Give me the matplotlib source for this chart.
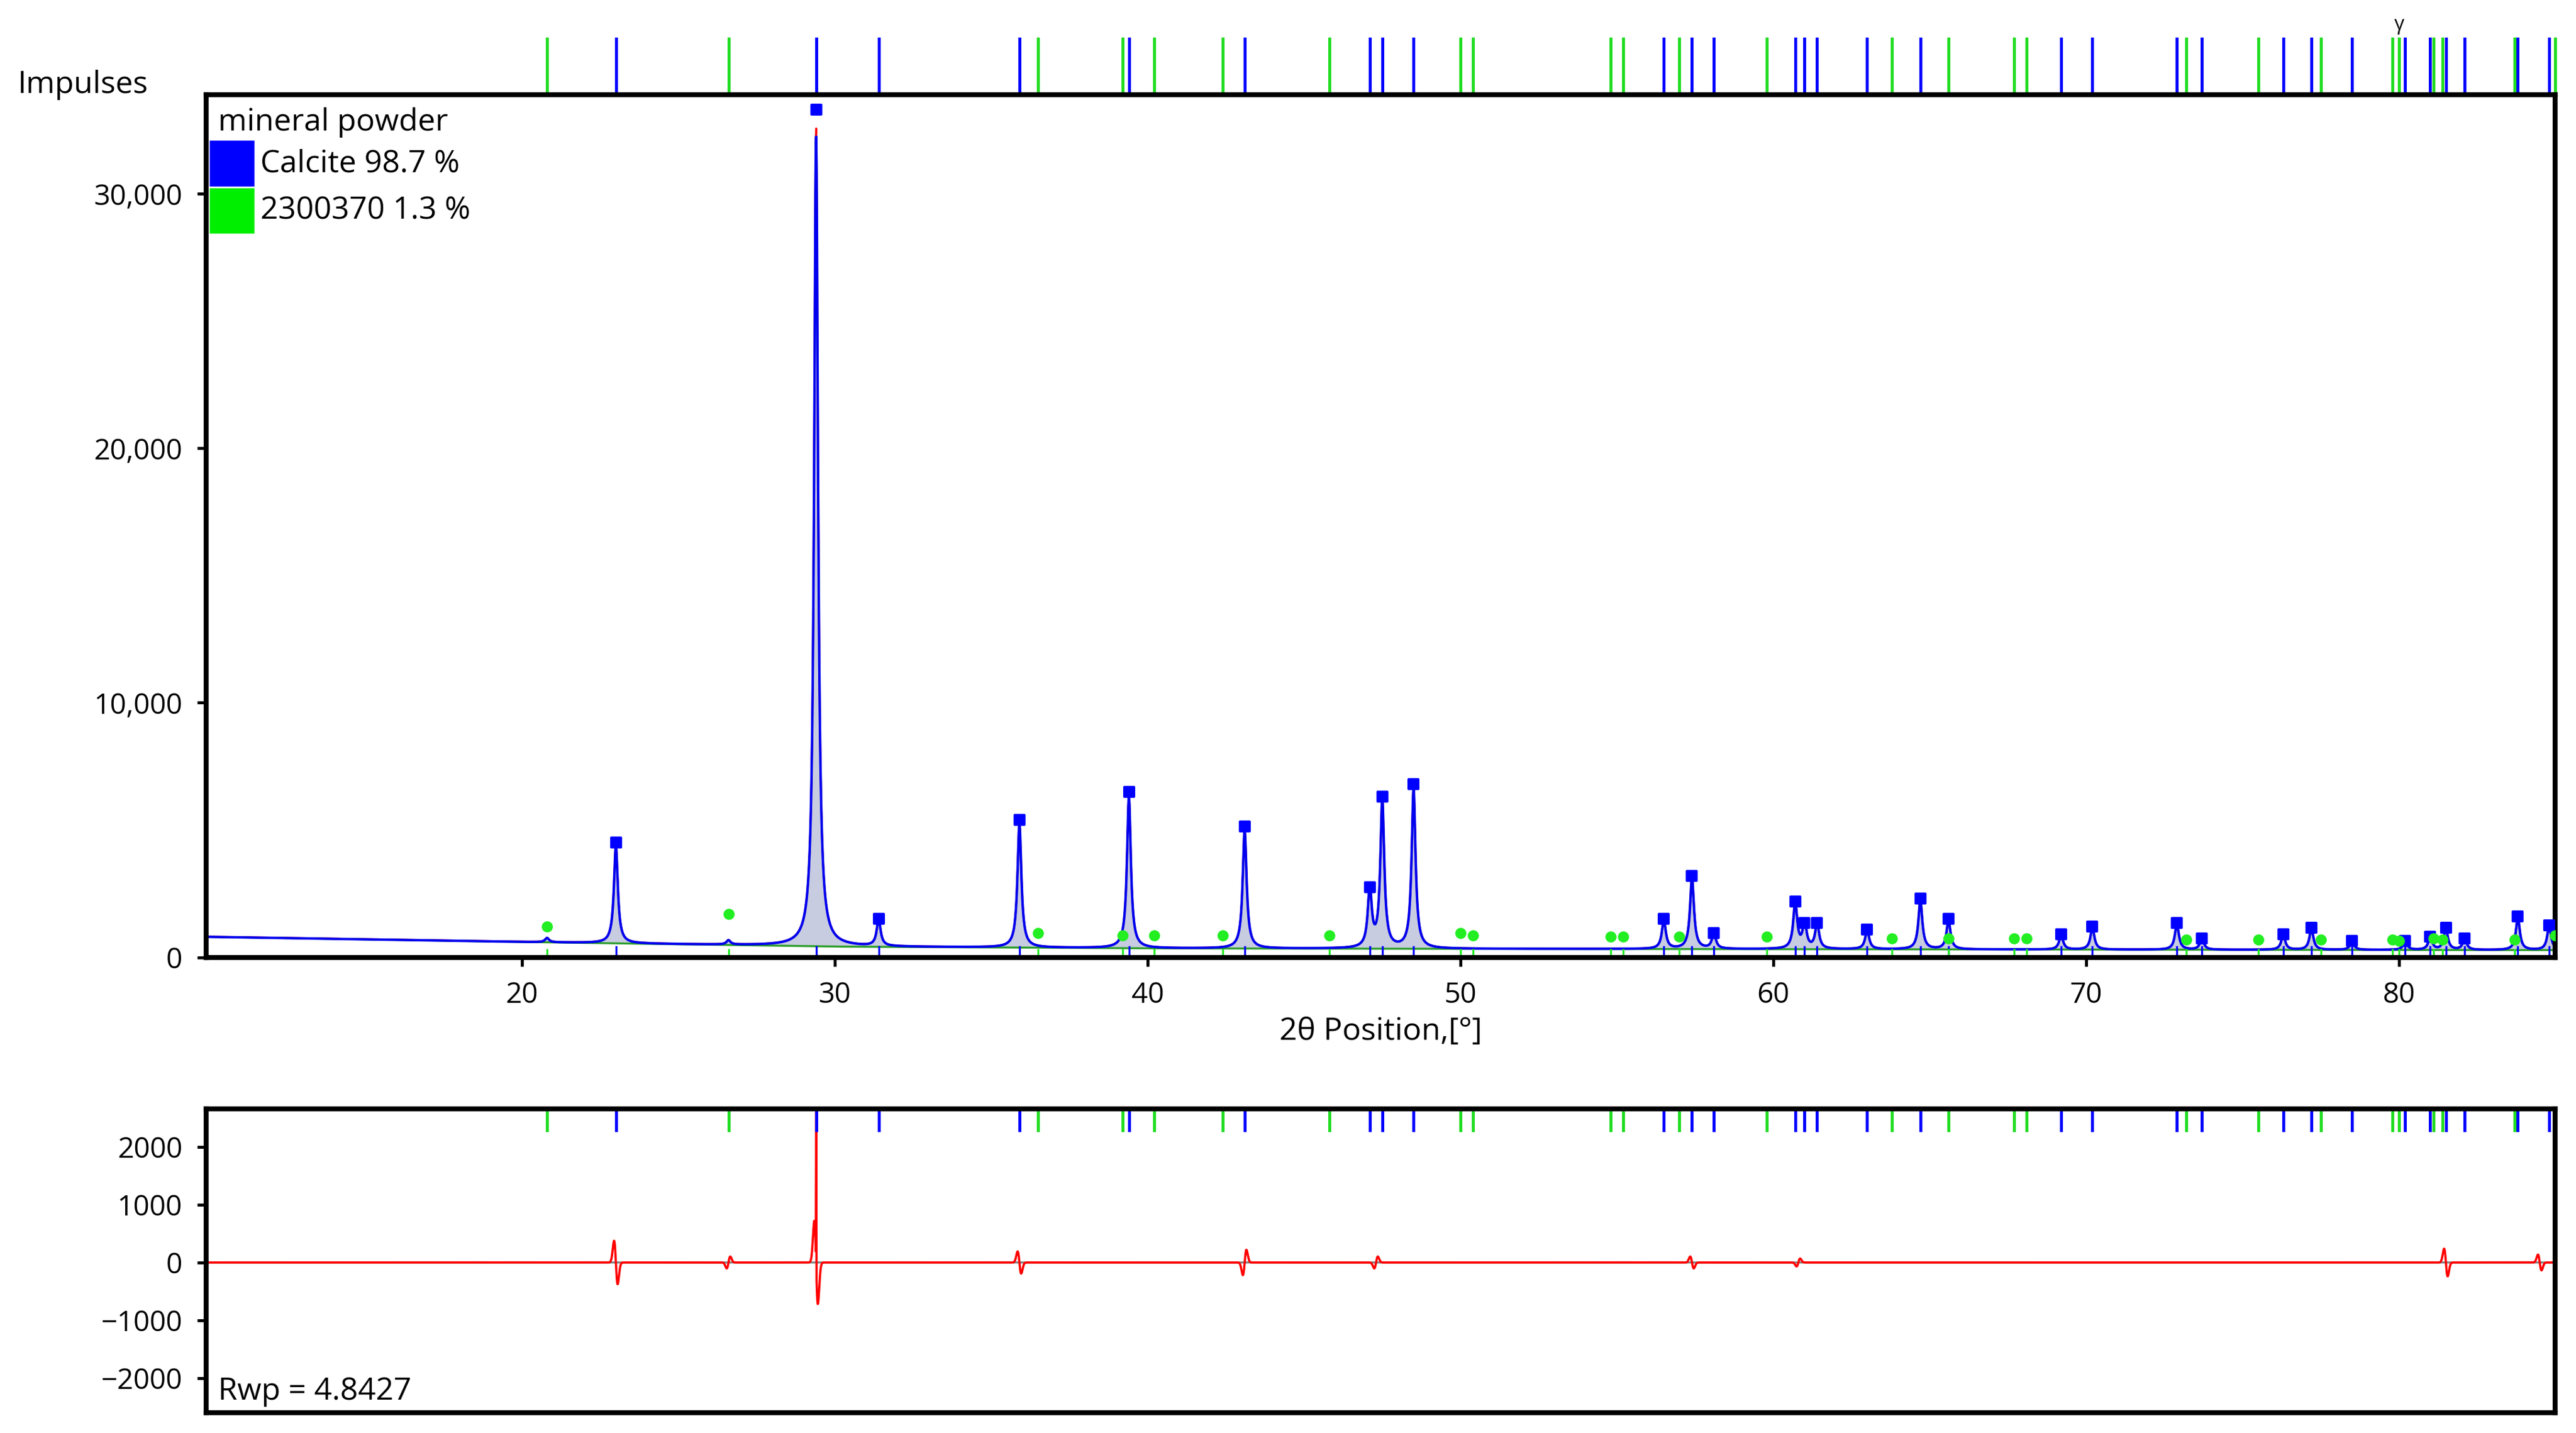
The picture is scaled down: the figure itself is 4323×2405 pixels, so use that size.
import numpy as np
import matplotlib
matplotlib.use("Agg")
import matplotlib.pyplot as plt
from matplotlib.ticker import FuncFormatter, FixedLocator

plt.rcParams['font.family'] = ['Open Sans', 'DejaVu Sans']

calc_pos = [23.0, 29.4, 31.4, 35.9, 39.4, 43.1, 47.1, 47.5, 48.5, 56.5, 57.4, 58.1, 60.7, 61.0, 61.4,
            63.0, 64.7, 65.6, 69.2, 70.2, 72.9, 73.7, 76.3, 77.2, 78.5, 80.2, 81.0, 81.5, 82.1, 83.8, 84.8]
calc_h = [4500, 33300, 1500, 5400, 6500, 5150, 2750, 6300, 6800, 1500, 3200, 950, 2200, 1350, 1350,
          1100, 2300, 1500, 900, 1200, 1350, 750, 900, 1150, 650, 650, 800, 1150, 750, 1600, 1250]
grn_pos = [20.8, 26.6, 36.5, 39.2, 40.2, 42.4, 45.8, 50.0, 50.4, 54.8, 55.2, 57.0, 59.8, 63.8, 65.6,
           67.7, 68.1, 73.2, 75.5, 77.5, 79.8, 80.0, 81.1, 81.4, 83.7, 85.0]
grn_h = [1200, 1700, 950, 850, 850, 850, 850, 950, 850, 800, 800, 800, 800, 750, 750,
         750, 750, 700, 700, 700, 700, 650, 750, 700, 700, 850]
bg_x = [10, 20, 30, 40, 50, 60, 70, 85]
bg_y = [800, 600, 420, 350, 330, 320, 300, 280]
resid_pos = [23.0, 26.6, 29.4, 35.9, 43.1, 47.3, 57.4, 60.8, 81.5, 84.5]
resid_amp = [-550, 150, -1050, -280, 320, 150, -150, 100, -350, -200]

x = np.linspace(10, 85, 6000)
bg = np.interp(x, bg_x, bg_y)
calc = bg.copy()
w = 0.075
for p, h in zip(calc_pos, calc_h):
    calc += (h * 0.97 - np.interp(p, bg_x, bg_y)) / (1 + ((x - p) / w) ** 2)
for p, h in zip(grn_pos[:2], [1000, 900]):
    calc += (h - np.interp(p, bg_x, bg_y)) * 0.4 / (1 + ((x - p) / w) ** 2)
resid = np.zeros_like(x)
for p, a in zip(resid_pos, resid_amp):
    d = (x - p) / 0.08
    resid += a * 1.6 * d * np.exp(-d ** 2)
resid[np.argmin(abs(x - 29.4))] = 2600

fig = plt.figure(figsize=(4323 / 300, 2405 / 300), dpi=300)
ax = fig.add_axes([0.080, 0.332, 0.912, 0.602])
ax2 = fig.add_axes([0.080, 0.014, 0.912, 0.212])

ax.fill_between(x, bg, calc, color='#c8cce0', lw=0)
ax.plot(x, calc * 1.01, color='red', lw=0.8)
ax.plot(x, bg, color='#2a9d2a', lw=0.8)
ax.plot(x, calc, color='#0000ee', lw=1.0)
ax.scatter(calc_pos, calc_h, marker='s', s=14, color='#0000ff', zorder=5)
ax.scatter(grn_pos, grn_h, marker='o', s=12, color='#22ee22', zorder=5)
for p in calc_pos:
    ax.plot([p, p], [0, 400], color='#0000ff', lw=0.8)
for p in grn_pos:
    ax.plot([p, p], [0, 300], color='#22ee22', lw=0.8)
ax.set_xlim(9.9, 85.0)
ax.set_ylim(0, 33900)
ax.xaxis.set_major_locator(FixedLocator([20, 30, 40, 50, 60, 70, 80]))
ax.yaxis.set_major_locator(FixedLocator([0, 10000, 20000, 30000]))
ax.yaxis.set_major_formatter(FuncFormatter(lambda v, _: f"{int(v):,}"))
ax.tick_params(labelsize=11.5, width=1.2, pad=6)
ax.set_xlabel("2θ Position,[°]", fontsize=12.5, labelpad=3)
for s in ax.spines.values():
    s.set_linewidth(2)
for p in calc_pos:
    ax.plot([p, p], [1.0, 1.065], color='#0000ff', lw=1.2, transform=ax.get_xaxis_transform(), clip_on=False)
for p in grn_pos:
    ax.plot([p, p], [1.0, 1.065], color='#22dd22', lw=1.2, transform=ax.get_xaxis_transform(), clip_on=False)
ax.text(80, 1.075, "γ", fontsize=8, ha='center', transform=ax.get_xaxis_transform())
fig.text(0.007, 0.935, "Impulses", fontsize=12.5)
ax.text(0.005, 0.985, "mineral powder", transform=ax.transAxes, fontsize=12.5, va='top')
ax.add_patch(plt.Rectangle((0.002, 0.895), 0.018, 0.05, color='#0000ff', transform=ax.transAxes, clip_on=False))
ax.add_patch(plt.Rectangle((0.002, 0.84), 0.018, 0.05, color='#00ee00', transform=ax.transAxes, clip_on=False))
ax.text(0.023, 0.92, "Calcite 98.7 %", transform=ax.transAxes, fontsize=12.5, va='center')
ax.text(0.023, 0.865, "2300370 1.3 %", transform=ax.transAxes, fontsize=12.5, va='center')

ax2.plot(x, np.zeros_like(x), color='gray', lw=0.8)
ax2.plot(x, resid, color='red', lw=0.9)
for p in calc_pos:
    ax2.plot([p, p], [0.93, 1.0], color='#0000ff', lw=1.2, transform=ax2.get_xaxis_transform())
for p in grn_pos:
    ax2.plot([p, p], [0.93, 1.0], color='#22dd22', lw=1.2, transform=ax2.get_xaxis_transform())
ax2.set_xlim(9.9, 85.0)
ax2.set_ylim(-2600, 2650)
ax2.set_xticks([])
ax2.yaxis.set_major_locator(FixedLocator([-2000, -1000, 0, 1000, 2000]))
ax2.tick_params(labelsize=11.5, width=1.2, pad=6)
for s in ax2.spines.values():
    s.set_linewidth(2)
ax2.text(0.005, 0.02, "Rwp = 4.8427", transform=ax2.transAxes, fontsize=12.5, va='bottom')
fig.savefig("out.png", dpi=300)
